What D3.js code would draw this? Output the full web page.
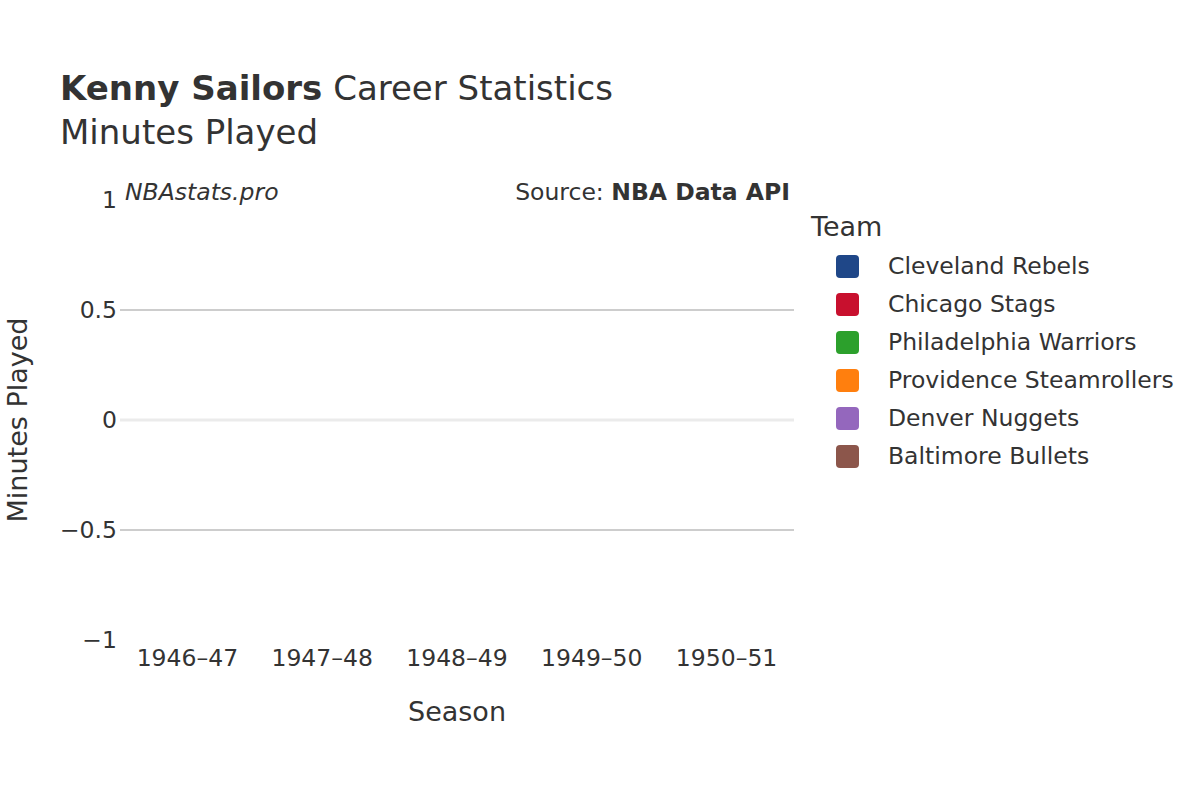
<!DOCTYPE html>
<html>
  <head>
    <meta charset="utf-8" />
    <script src="https://d3js.org/d3.v7.min.js"></script>
    <style>
      body { margin: 0; background: #fff; }
      text { font-family: "DejaVu Sans", "Noto Sans", sans-serif; fill: #333; }
    </style>
  </head>
  <body>
    <svg id="chart" width="1200" height="800"></svg>
    <script>
      // Datos
      const seasons = ["1946–47", "1947–48", "1948–49", "1949–50", "1950–51"];
      const teams = ["Cleveland Rebels", "Chicago Stags", "Philadelphia Warriors", "Providence Steamrollers", "Denver Nuggets", "Baltimore Bullets"];
      const colors = ["#1f4788", "#c8102e", "#2ca02c", "#ff7f0e", "#9467bd", "#8c564b"];
      const minutes = [
        { season: "1946–47", team: "Cleveland Rebels", value: 0 },
        { season: "1947–48", team: "Chicago Stags", value: 0 },
        { season: "1947–48", team: "Philadelphia Warriors", value: 0 },
        { season: "1948–49", team: "Providence Steamrollers", value: 0 },
        { season: "1949–50", team: "Denver Nuggets", value: 0 },
        { season: "1950–51", team: "Baltimore Bullets", value: 0 }
      ];
      const yTicks = [-1, -0.5, 0, 0.5, 1];

      const svg = d3.select("#chart");
      const margin = { top: 200, right: 406, bottom: 160, left: 120 };
      const width = 1200, height = 800;

      const x = d3.scaleBand().domain(seasons).range([margin.left, width - margin.right]).padding(0);
      const y = d3.scaleLinear().domain([-1, 1]).range([height - margin.bottom, margin.top]);
      const color = d3.scaleOrdinal().domain(teams).range(colors);
      const inset = x.bandwidth() * 0.1;

      // Rejilla
      svg.append("g").selectAll("line")
        .data(yTicks.filter((d) => Math.abs(d) === 0.5))
        .join("line")
        .attr("x1", margin.left).attr("x2", width - margin.right)
        .attr("y1", (d) => y(d)).attr("y2", (d) => y(d))
        .attr("stroke", "#bdbdbd").attr("stroke-width", 1.5);
      svg.append("line")
        .attr("x1", margin.left).attr("x2", width - margin.right)
        .attr("y1", y(0)).attr("y2", y(0))
        .attr("stroke", "#ebebeb").attr("stroke-width", 3);

      // Barras (altura cero)
      svg.append("g").selectAll("rect")
        .data(minutes)
        .join("rect")
        .attr("x", (d) => x(d.season) + inset)
        .attr("width", x.bandwidth() - 2 * inset)
        .attr("y", (d) => Math.min(y(d.value), y(0)))
        .attr("height", (d) => Math.abs(y(d.value) - y(0)))
        .attr("fill", (d) => color(d.team))
        .attr("stroke", "#fff").attr("stroke-width", 0.5);

      // Eje y
      svg.append("g").selectAll("text")
        .data(yTicks)
        .join("text")
        .attr("x", 117).attr("y", (d) => y(d)).attr("dy", "0.35em")
        .attr("text-anchor", "end").attr("font-size", 23.5)
        .text((d) => d3.format("")(d).replace("-", "−"));

      // Eje x
      svg.append("g").selectAll("text")
        .data(seasons)
        .join("text")
        .attr("x", (d) => x(d) + x.bandwidth() / 2).attr("y", 666)
        .attr("text-anchor", "middle").attr("font-size", 23.5)
        .text((d) => d);

      svg.append("text").attr("x", 457).attr("y", 721).attr("text-anchor", "middle")
        .attr("font-size", 27).text("Season");
      svg.append("text").attr("transform", "translate(27,420) rotate(-90)")
        .attr("text-anchor", "middle").attr("font-size", 27).text("Minutes Played");

      // Títulos
      const title = svg.append("text").attr("x", 60).attr("y", 100).attr("font-size", 34);
      title.append("tspan").attr("font-weight", "bold").text("Kenny Sailors");
      title.append("tspan").text(" Career Statistics");
      svg.append("text").attr("x", 60).attr("y", 144).attr("font-size", 34).text("Minutes Played");

      // Anotaciones
      svg.append("text").attr("x", 125).attr("y", 200).attr("font-size", 23.5)
        .attr("font-style", "italic").text("NBAstats.pro");
      const src = svg.append("text").attr("x", 790).attr("y", 200).attr("font-size", 23.5).attr("text-anchor", "end");
      src.append("tspan").text("Source: ");
      src.append("tspan").attr("font-weight", "bold").text("NBA Data API");

      // Leyenda
      svg.append("text").attr("x", 811).attr("y", 236).attr("font-size", 27).text("Team");
      const items = svg.append("g").selectAll("g")
        .data(teams)
        .join("g")
        .attr("transform", (d, i) => `translate(0,${266 + i * 38})`);
      items.append("rect")
        .attr("x", 836).attr("y", -11).attr("width", 23).attr("height", 23)
        .attr("rx", 4).attr("fill", (d) => color(d));
      items.append("text").attr("x", 888).attr("y", 0).attr("dy", "0.35em")
        .attr("font-size", 23.5).text((d) => d);
    </script>
  </body>
</html>
